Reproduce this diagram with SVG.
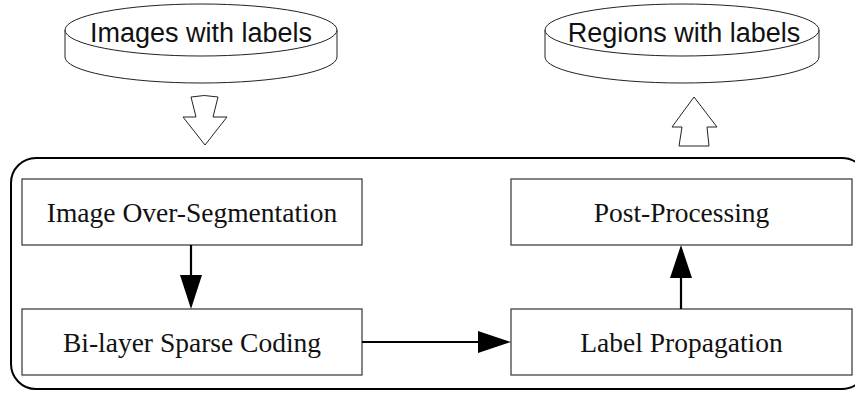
<svg xmlns="http://www.w3.org/2000/svg" width="855" height="393" viewBox="0 0 855 393">
<defs>
<style>
.box{fill:#fff;stroke:#333;stroke-width:1.2}
.t{font-family:"Liberation Serif","Times New Roman",serif;font-size:27.5px;fill:#111;text-anchor:middle}
.s{font-family:"Liberation Sans",Arial,sans-serif;font-size:27px;fill:#111;text-anchor:middle}
.disk{fill:#fff;stroke:#222;stroke-width:1}
.conn{stroke:#000;stroke-width:2.2;fill:none}
.head{fill:#000;stroke:none}
.blk{fill:#fff;stroke:#222;stroke-width:1}
</style>
</defs>
<rect width="855" height="393" fill="#fff"/>
<g id="disk-images">
<path class="disk" d="M65,30 L65,57 A136,26 0 0 0 337,57 L337,30"/>
<ellipse class="disk" cx="201" cy="30" rx="136" ry="26"/>
<text class="s" x="201" y="42">Images with labels</text>
</g>
<g id="disk-regions">
<path class="disk" d="M545,30 L545,57 A137,26 0 0 0 819,57 L819,30"/>
<ellipse class="disk" cx="682" cy="30" rx="137" ry="26"/>
<text class="s" x="684" y="42">Regions with labels</text>
</g>
<g id="arrow-in">
<path class="blk" d="M191,97 Q204,94 218,97 L213,117 L227,117 L205,145 L183,117 L196,117 Z"/>
</g>
<g id="arrow-out">
<path class="blk" d="M694,97 L717,127 L707,127 L709,146 L679,146 L682,127 L672,127 Z"/>
</g>
<g id="pipeline">
<rect x="11" y="158" width="856" height="231" rx="25" ry="25" fill="none" stroke="#000" stroke-width="2"/>
</g>
<g id="node-oversegmentation">
<rect class="box" x="22" y="179" width="340" height="66"/>
<text class="t" x="192" y="222">Image Over-Segmentation</text>
</g>
<g id="node-sparse">
<rect class="box" x="22" y="309" width="340" height="66"/>
<text class="t" x="192" y="352">Bi-layer Sparse Coding</text>
</g>
<g id="node-post">
<rect class="box" x="511" y="179" width="341" height="66"/>
<text class="t" x="681.5" y="222">Post-Processing</text>
</g>
<g id="node-label">
<rect class="box" x="511" y="309" width="341" height="66"/>
<text class="t" x="681.5" y="352">Label Propagation</text>
</g>
<g id="connectors">
<line class="conn" x1="191" y1="245" x2="191" y2="277"/>
<polygon class="head" points="180,275 202,275 191,309"/>
<line class="conn" x1="362" y1="342" x2="480" y2="342"/>
<polygon class="head" points="478,331 478,353 511,342"/>
<line class="conn" x1="681" y1="309" x2="681" y2="276"/>
<polygon class="head" points="670,278 692,278 681,245"/>
</g>
</svg>
